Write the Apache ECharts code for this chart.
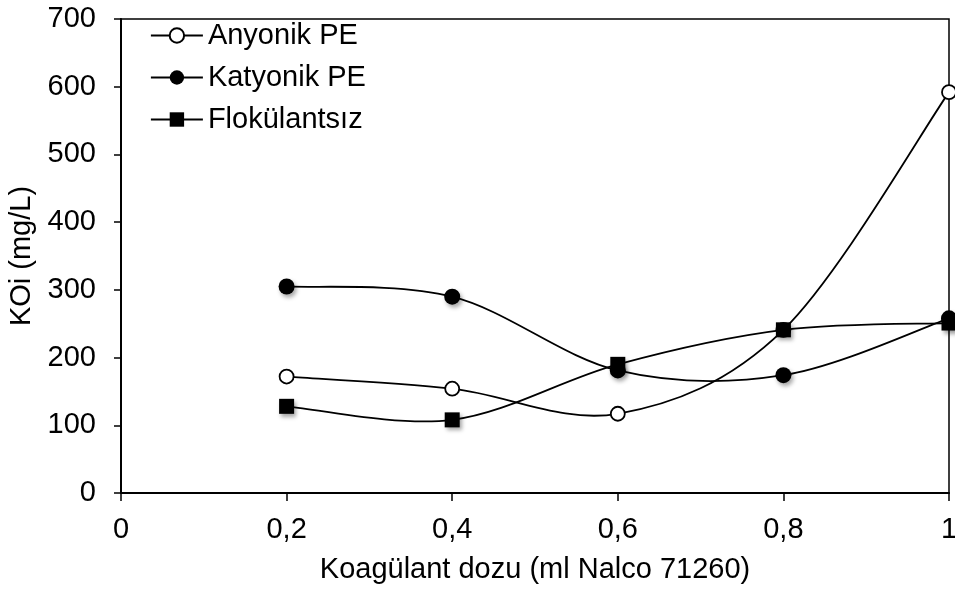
<!DOCTYPE html>
<html>
<head>
<meta charset="utf-8">
<script src="https://cdn.jsdelivr.net/npm/echarts@6/dist/echarts.min.js"></script>
<style>
  html, body { margin: 0; padding: 0; background: #fff; }
  #chart { width: 955px; height: 590px; }
</style>
</head>
<body>
<div id="chart"></div>
<script>
// Coagulant dose (ml Nalco 71260)
const doses = [0.2, 0.4, 0.6, 0.8, 1.0];
// COD (mg/L) for each flocculant condition
const anyonikPE = [172, 154, 117, 241, 592];
const katyonikPE = [305, 290, 181, 174, 258];
const flokulantsiz = [128, 108, 190, 241, 251];

const seriesNames = ['Anyonik PE', 'Katyonik PE', 'Flokülantsız'];
const FONT = 'Liberation Sans, Arial, sans-serif';
const FS = 29;

const pairs = vals => doses.map((d, i) => [d, vals[i]]);

const markerShadow = {
  shadowColor: 'rgba(0,0,0,0.35)',
  shadowBlur: 4,
  shadowOffsetX: 2,
  shadowOffsetY: 3
};

// Markers (and legend entries) for one data set; the connecting curve is drawn separately
function markerSeries(name, vals, symbol, size, hollow) {
  const itemStyle = hollow
    ? { color: '#fff', borderColor: '#000', borderWidth: 1.8 }
    : Object.assign({ color: '#000', borderWidth: 0 }, markerShadow);
  return {
    name: name,
    type: 'line',
    data: pairs(vals),
    symbol: symbol,
    symbolSize: size,
    showSymbol: true,
    z: 3,
    lineStyle: { color: '#000', width: 1.8, opacity: 0 },
    itemStyle: itemStyle,
    emphasis: { disabled: true },
    animation: false
  };
}

// Smoothed connecting curve: cubic Bezier segments with Catmull-Rom control points
function curveSeries(vals) {
  return {
    type: 'custom',
    coordinateSystem: 'cartesian2d',
    data: pairs(vals),
    encode: { x: 0, y: 1 },
    z: 2,
    silent: true,
    animation: false,
    renderItem: function (params, api) {
      const i = params.dataIndex;
      const n = vals.length;
      if (i >= n - 1) return null;
      const P = j => api.coord([doses[Math.max(0, Math.min(n - 1, j))], vals[Math.max(0, Math.min(n - 1, j))]]);
      const p0 = P(i - 1), p1 = P(i), p2 = P(i + 1), p3 = P(i + 2);
      const k = 1 / 6;
      return {
        type: 'bezierCurve',
        shape: {
          x1: p1[0], y1: p1[1],
          cpx1: p1[0] + (p2[0] - p0[0]) * k, cpy1: p1[1] + (p2[1] - p0[1]) * k,
          cpx2: p2[0] - (p3[0] - p1[0]) * k, cpy2: p2[1] - (p3[1] - p1[1]) * k,
          x2: p2[0], y2: p2[1]
        },
        style: { stroke: '#000', lineWidth: 1.8, fill: null }
      };
    }
  };
}

const chart = echarts.init(document.getElementById('chart'), null, { renderer: 'canvas' });
chart.setOption({
  backgroundColor: '#fff',
  animation: false,
  grid: {
    left: 121, right: 6, top: 19, bottom: 97,
    containLabel: false, outerBoundsMode: 'none',
    show: true, borderColor: '#000', borderWidth: 1.5, backgroundColor: 'transparent'
  },
  legend: {
    left: 150, top: 21, orient: 'vertical', padding: 0,
    itemWidth: 52, itemHeight: 18, itemGap: 13,
    lineStyle: { color: '#000', width: 1.8, opacity: 1 },
    textStyle: { fontFamily: FONT, fontSize: FS, color: '#000' },
    data: seriesNames.map(n => ({ name: n }))
  },
  xAxis: {
    type: 'value', min: 0, max: 1, interval: 0.2,
    name: 'Koagülant dozu (ml Nalco 71260)',
    nameLocation: 'middle', nameGap: 62,
    nameTextStyle: { fontFamily: FONT, fontSize: FS, color: '#000' },
    axisLine: { show: true, onZero: false, lineStyle: { color: '#000', width: 2 } },
    axisTick: { show: true, length: 8, lineStyle: { color: '#000', width: 1.5 } },
    axisLabel: {
      fontFamily: FONT, fontSize: FS, color: '#000', margin: 22,
      formatter: v => String(Math.round(v * 10) / 10).replace('.', ',')
    },
    splitLine: { show: false }
  },
  yAxis: {
    type: 'value', min: 0, max: 700, interval: 100,
    name: 'KOi (mg/L)',
    nameLocation: 'middle', nameGap: 80, nameRotate: 90,
    nameTextStyle: { fontFamily: FONT, fontSize: FS, color: '#000' },
    axisLine: { show: true, lineStyle: { color: '#000', width: 2 } },
    axisTick: { show: true, length: 7, lineStyle: { color: '#000', width: 1.5 } },
    axisLabel: { fontFamily: FONT, fontSize: FS, color: '#000', margin: 25 },
    splitLine: { show: false }
  },
  series: [
    curveSeries(anyonikPE),
    curveSeries(katyonikPE),
    curveSeries(flokulantsiz),
    markerSeries(seriesNames[0], anyonikPE, 'circle', 14, true),
    markerSeries(seriesNames[1], katyonikPE, 'circle', 16, false),
    markerSeries(seriesNames[2], flokulantsiz, 'rect', 15, false)
  ]
});
</script>
</body>
</html>
